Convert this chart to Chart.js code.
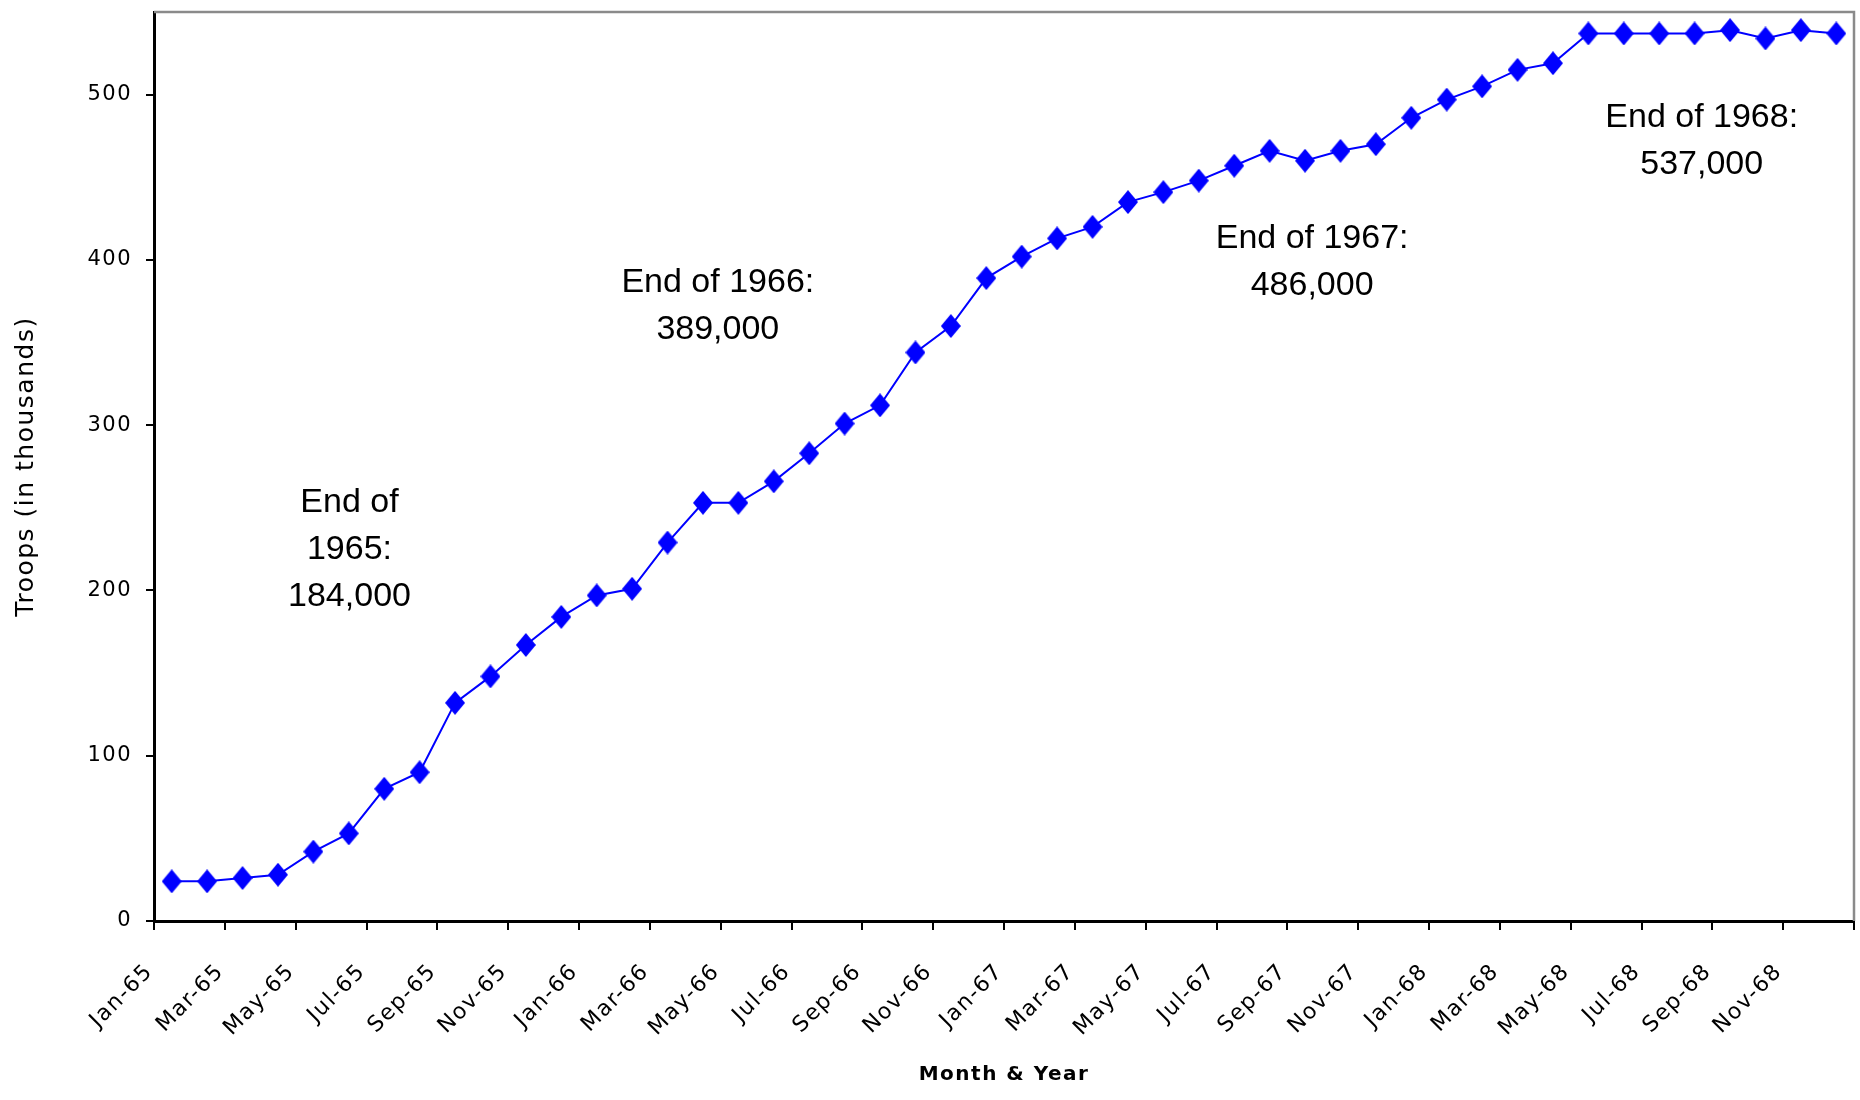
<!DOCTYPE html>
<html lang="en">

<head>
    <meta charset="UTF-8">
    <meta name="viewport" content="width=device-width, initial-scale=1.0">
    <title>Troops</title>
    <style>
        html, body { margin: 0; padding: 0; background: #fff; }
        canvas { display: block; }
    </style>
</head>

<body>
    <canvas id="chart" width="1860" height="1100"></canvas>

    <script src="https://cdn.jsdelivr.net/npm/chart.js@4/dist/chart.umd.min.js"></script>
    <script>
        // months on the x axis
        const months = [
            'Jan-65', 'Feb-65', 'Mar-65', 'Apr-65', 'May-65', 'Jun-65', 'Jul-65', 'Aug-65', 'Sep-65', 'Oct-65', 'Nov-65', 'Dec-65',
            'Jan-66', 'Feb-66', 'Mar-66', 'Apr-66', 'May-66', 'Jun-66', 'Jul-66', 'Aug-66', 'Sep-66', 'Oct-66', 'Nov-66', 'Dec-66',
            'Jan-67', 'Feb-67', 'Mar-67', 'Apr-67', 'May-67', 'Jun-67', 'Jul-67', 'Aug-67', 'Sep-67', 'Oct-67', 'Nov-67', 'Dec-67',
            'Jan-68', 'Feb-68', 'Mar-68', 'Apr-68', 'May-68', 'Jun-68', 'Jul-68', 'Aug-68', 'Sep-68', 'Oct-68', 'Nov-68', 'Dec-68'
        ]

        // troops in thousands
        const troops = [
            24, 24, 26, 28, 42, 53, 80, 90, 132, 148, 167, 184,
            197, 201, 229, 253, 253, 266, 283, 301, 312, 344, 360, 389,
            402, 413, 420, 435, 441, 448, 457, 466, 460, 466, 470, 486,
            497, 505, 515, 519, 537, 537, 537, 537, 539, 534, 539, 537
        ]

        // y axis ticks
        const yTicks = [0, 100, 200, 300, 400, 500]

        // text notes
        const noteText = [
            ['End of', '1965:', '184,000'],
            ['End of 1966:', '389,000'],
            ['End of 1967:', '486,000'],
            ['End of 1968:', '537,000']
        ]

        // where the notes sit (category index, value of first line)
        const notePlace = [
            { x: 5.02, y: 253 },
            { x: 15.42, y: 386 },
            { x: 32.2, y: 413 },
            { x: 43.2, y: 486 }
        ]

        const FONT = "'Liberation Sans', Arial, sans-serif"
        const WIDE = "'DejaVu Sans', Verdana, sans-serif"

        // diamond marker, a bit taller than wide
        const marker = document.createElement('canvas')
        marker.width = 20
        marker.height = 24
        const m = marker.getContext('2d')
        m.fillStyle = '#0000ff'
        m.beginPath()
        m.moveTo(10, 0)
        m.lineTo(20, 12)
        m.lineTo(10, 24)
        m.lineTo(0, 12)
        m.closePath()
        m.fill()

        // the axis text in the original is wide, so space it out a little
        const spacing = {
            id: 'spacing',
            beforeDraw(chart) { chart.ctx.letterSpacing = '1.5px' },
            beforeDatasetsDraw(chart) { chart.ctx.letterSpacing = '0px' }
        }

        // gray frame on top and right, plus the notes
        const extras = {
            id: 'extras',
            afterDatasetsDraw(chart) {
                const { ctx, chartArea: a, scales } = chart
                ctx.save()
                ctx.strokeStyle = '#8a8a8a'
                ctx.lineWidth = 2.5
                ctx.beginPath()
                ctx.moveTo(a.left, a.top)
                ctx.lineTo(a.right, a.top)
                ctx.lineTo(a.right, a.bottom)
                ctx.stroke()

                ctx.fillStyle = '#000'
                ctx.font = '34px ' + FONT
                ctx.textAlign = 'center'
                ctx.textBaseline = 'middle'
                noteText.forEach((lines, i) => {
                    const x = scales.x.getPixelForValue(notePlace[i].x)
                    const y = scales.y.getPixelForValue(notePlace[i].y)
                    lines.forEach((t, k) => ctx.fillText(t, x, y + k * 47))
                })
                ctx.restore()
            }
        }

        const ctx = document.getElementById('chart').getContext('2d')

        new Chart(ctx, {
            type: 'line',
            data: {
                labels: months,
                datasets: [
                    {
                        label: 'Troops',
                        data: troops,
                        borderColor: '#0000ff',
                        backgroundColor: '#0000ff',
                        borderWidth: 2,
                        pointStyle: marker,
                        tension: 0
                    }
                ]
            },
            options: {
                responsive: false,
                devicePixelRatio: 1,
                animation: false,
                layout: { padding: { top: 12, right: 3, left: 0, bottom: 0 } },
                plugins: {
                    legend: { display: false },
                    tooltip: { enabled: false }
                },
                scales: {
                    x: {
                        offset: true,
                        afterFit: s => {
                            s.height = 179
                            s.paddingLeft = 0
                            s.paddingRight = 0
                        },
                        grid: {
                            offset: true,
                            drawOnChartArea: false,
                            tickLength: 9,
                            lineWidth: 2,
                            color: c => (c.index === undefined || c.index % 2 === 0) ? '#000' : 'rgba(0,0,0,0)'
                        },
                        border: { color: '#000', width: 3 },
                        ticks: {
                            autoSkip: false,
                            minRotation: 45,
                            maxRotation: 45,
                            labelOffset: -22,
                            padding: 29,
                            color: '#000',
                            font: { family: WIDE, size: 22 },
                            callback: function (v, i) {
                                return i % 2 === 0 ? this.getLabelForValue(v) : ''
                            }
                        },
                        title: {
                            display: true,
                            text: 'Month & Year',
                            color: '#000',
                            font: { family: WIDE, size: 20, weight: 'bold' },
                            padding: { top: 0, bottom: 13 }
                        }
                    },
                    y: {
                        min: 0,
                        max: 550,
                        afterFit: s => {
                            s.width = 154
                            s.paddingTop = 0
                            s.paddingBottom = 0
                        },
                        afterBuildTicks: s => { s.ticks = yTicks.map(v => ({ value: v })) },
                        grid: {
                            drawOnChartArea: false,
                            tickLength: 8,
                            lineWidth: 2,
                            color: '#000'
                        },
                        border: { color: '#000', width: 3 },
                        ticks: {
                            padding: 14,
                            color: '#000',
                            font: { family: WIDE, size: 21 }
                        },
                        title: {
                            display: true,
                            text: 'Troops (in thousands)',
                            color: '#000',
                            font: { family: WIDE, size: 25 },
                            padding: { top: 11, bottom: 0 }
                        }
                    }
                }
            },
            plugins: [spacing, extras]
        })
    </script>

</body>

</html>
